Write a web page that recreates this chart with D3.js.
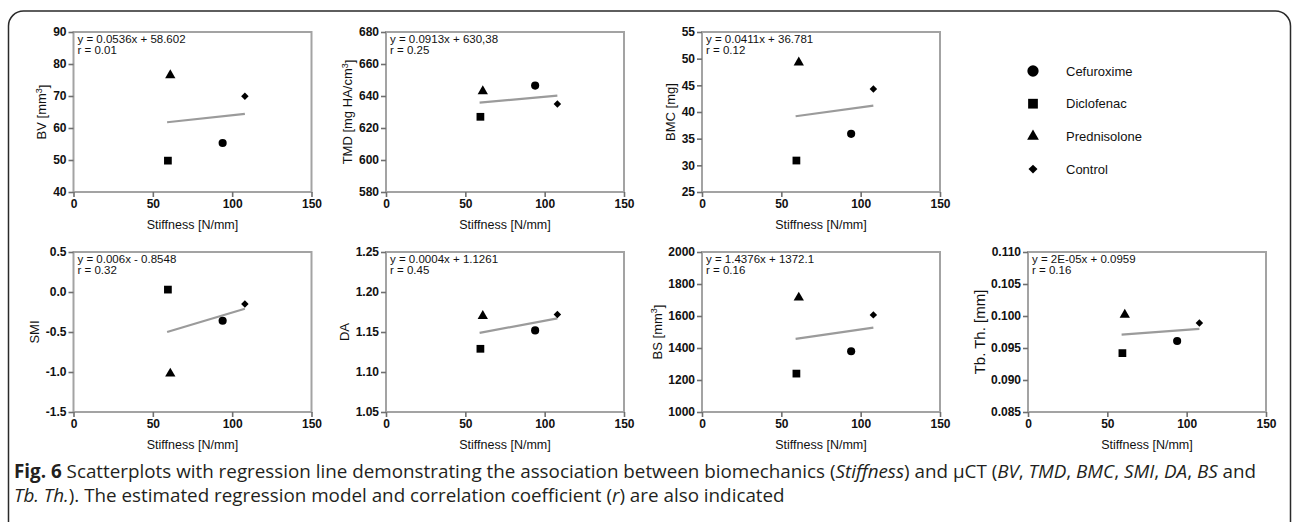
<!DOCTYPE html>
<html>
<head>
<meta charset="utf-8">
<script src="https://cdn.jsdelivr.net/npm/d3@7"></script>
<style>
  body { margin: 0; background: #fff; }
  svg text { font-family: "Liberation Sans", Arial, sans-serif; fill: #111; }
</style>
</head>
<body>
<div id="chart"></div>
<script>
// values
var groups = ["Cefuroxime", "Diclofenac", "Prednisolone", "Control"];
var stiffness = [94, 59.5, 61, 108];

var bv   = [55.3, 49.8, 76.5, 69.9];
var tmd  = [646.5, 627, 643, 635];
var bmc  = [35.9, 30.9, 49.3, 44.3];
var smi  = [-0.36, 0.03, -1.02, -0.15];
var da   = [1.152, 1.129, 1.170, 1.172];
var bs   = [1380, 1240, 1715, 1607];
var tbth = [0.0961, 0.0942, 0.1002, 0.0989];

// regression line ends (at stiffness 59 and 108)
var fitX    = [59, 108];
var fitBV   = [61.8, 64.4];
var fitTMD  = [635.8, 640.2];
var fitBMC  = [39.2, 41.2];
var fitSMI  = [-0.50, -0.21];
var fitDA   = [1.149, 1.167];
var fitBS   = [1457, 1527];
var fitTBTH = [0.0971, 0.0980];

var xTicks    = [0, 50, 100, 150];
var bvTicks   = [40, 50, 60, 70, 80, 90];
var tmdTicks  = [580, 600, 620, 640, 660, 680];
var bmcTicks  = [25, 30, 35, 40, 45, 50, 55];
var smiTicks  = [-1.5, -1.0, -0.5, 0.0, 0.5];
var daTicks   = [1.05, 1.10, 1.15, 1.20, 1.25];
var bsTicks   = [1000, 1200, 1400, 1600, 1800, 2000];
var tbthTicks = [0.085, 0.090, 0.095, 0.100, 0.105, 0.110];

var panels = [
    { values: bv,   fit: fitBV,   ticks: bvTicks,   fmt: "d",   title: ["BV [mm", "3", "]"],         eq: "y = 0.0536x + 58.602",  r: "r = 0.01", col: 0, row: 0 },
    { values: tmd,  fit: fitTMD,  ticks: tmdTicks,  fmt: "d",   title: ["TMD [mg HA/cm", "3", "]"],  eq: "y = 0.0913x + 630,38",  r: "r = 0.25", col: 1, row: 0 },
    { values: bmc,  fit: fitBMC,  ticks: bmcTicks,  fmt: "d",   title: ["BMC [mg]"],                 eq: "y = 0.0411x + 36.781",  r: "r = 0.12", col: 2, row: 0 },
    { values: smi,  fit: fitSMI,  ticks: smiTicks,  fmt: ".1f", title: ["SMI"],                      eq: "y = 0.006x - 0.8548",   r: "r = 0.32", col: 0, row: 1 },
    { values: da,   fit: fitDA,   ticks: daTicks,   fmt: ".2f", title: ["DA"],                       eq: "y = 0.0004x + 1.1261",  r: "r = 0.45", col: 1, row: 1 },
    { values: bs,   fit: fitBS,   ticks: bsTicks,   fmt: "d",   title: ["BS [mm", "3", "]"],         eq: "y = 1.4376x + 1372.1",  r: "r = 0.16", col: 2, row: 1 },
    { values: tbth, fit: fitTBTH, ticks: tbthTicks, fmt: ".3f", title: ["Tb. Th. [mm]"],             eq: "y = 2E-05x + 0.0959",   r: "r = 0.16", col: 3, row: 1, big: true }
];

var width = 1292, height = 522;
var colLeft = [73.5, 386, 702, 1028],
    rowTop = [32, 252],
    plotW = 238,
    plotH = 160;

var svg = d3.select("#chart").append("svg")
    .attr("width", width)
    .attr("height", height);

// rounded outer frame, bottom runs off the page
svg.append("rect")
    .attr("x", 8.5).attr("y", 11)
    .attr("width", 1282).attr("height", 540)
    .attr("rx", 15)
    .attr("fill", "none")
    .attr("stroke", "#2a2a2a")
    .attr("stroke-width", 1.5);

var shapes = [d3.symbolCircle, d3.symbolSquare, d3.symbolTriangle, d3.symbolSquare];
var sizes = [52, 60, 46, 28];
var rotate = [0, 0, 0, 45];

var x = d3.scaleLinear().domain([0, 150]).range([0, plotW]);
var minus = d3.formatLocale({ decimal: ".", thousands: ",", grouping: [3], currency: ["", ""], minus: "-" });

panels.forEach(function(p) {
    var g = svg.append("g")
        .attr("transform", "translate(" + colLeft[p.col] + "," + rowTop[p.row] + ")");

    var y = d3.scaleLinear()
        .domain(d3.extent(p.ticks))
        .range([plotH, 0]);

    // frame
    g.append("rect")
        .attr("width", plotW).attr("height", plotH)
        .attr("fill", "none")
        .attr("stroke", "#a3a3a3")
        .attr("stroke-width", 2);

    var yAxis = g.append("g")
        .call(d3.axisLeft(y).tickValues(p.ticks).tickFormat(minus.format(p.fmt)).tickSize(5).tickPadding(2));
    var xAxis = g.append("g")
        .attr("transform", "translate(0," + plotH + ")")
        .call(d3.axisBottom(x).tickValues(xTicks).tickSize(5).tickPadding(2));

    [yAxis, xAxis].forEach(function(a) {
        a.select(".domain").remove();
        a.selectAll(".tick line").attr("stroke", "#6f6f6f").attr("stroke-width", 1.6);
        a.selectAll(".tick text")
            .attr("fill", "#111")
            .style("font-family", "'Liberation Sans', Arial, sans-serif")
            .style("font-size", "12px")
            .style("font-weight", "bold");
    });

    var maxW = d3.max(yAxis.selectAll(".tick text").nodes(), function(n) { return n.getBBox().width; });

    // y title
    var title = g.append("text")
        .attr("transform", "translate(" + (-7 - maxW - 11) + "," + (plotH / 2) + ") rotate(-90)")
        .attr("text-anchor", "middle")
        .attr("dy", "0.35em")
        .style("font-size", p.big ? "15px" : "13px");
    title.append("tspan").text(p.title[0]);
    if (p.title.length > 1) {
        title.append("tspan").attr("dy", "-0.45em").style("font-size", "9px").text(p.title[1]);
        title.append("tspan").attr("dy", "0.45em").text(p.title[2]);
    }

    // x title
    g.append("text")
        .attr("x", plotW / 2)
        .attr("y", plotH + 37)
        .attr("text-anchor", "middle")
        .style("font-size", "12.5px")
        .text("Stiffness [N/mm]");

    // equation
    g.append("text").attr("x", 4).attr("y", 10.5).style("font-size", "11.5px").text(p.eq);
    g.append("text").attr("x", 4).attr("y", 21.5).style("font-size", "11.5px").text(p.r);

    // regression line
    g.append("line")
        .attr("x1", x(fitX[0])).attr("y1", y(p.fit[0]))
        .attr("x2", x(fitX[1])).attr("y2", y(p.fit[1]))
        .attr("stroke", "#9b9b9b")
        .attr("stroke-width", 2.2);

    g.selectAll(".pt")
        .data(p.values)
        .enter().append("path")
        .attr("class", "pt")
        .attr("transform", function(d, i) {
            return "translate(" + x(stiffness[i]) + "," + y(d) + ") rotate(" + rotate[i] + ")";
        })
        .attr("d", function(d, i) { return d3.symbol().type(shapes[i]).size(sizes[i])(); })
        .attr("fill", "#000");
});

// legend
var legend = svg.append("g").attr("transform", "translate(1033,71)");
var legendSizes = [100, 95, 60, 40];
groups.forEach(function(name, i) {
    var row = legend.append("g").attr("transform", "translate(0," + (i * 32.7) + ")");
    row.append("path")
        .attr("transform", "rotate(" + rotate[i] + ")")
        .attr("d", d3.symbol().type(shapes[i]).size(legendSizes[i])())
        .attr("fill", "#000");
    row.append("text")
        .attr("x", 33)
        .attr("dy", "0.35em")
        .style("font-size", "13px")
        .text(name);
});

// caption
var capFont = "'Open Sans', 'Noto Sans', sans-serif";
var line1 = [
    ["Fig. 6", "b"], [" Scatterplots with regression line demonstrating the association between biomechanics (", ""],
    ["Stiffness", "i"], [") and \u00b5CT (", ""], ["BV", "i"], [", ", ""], ["TMD", "i"], [", ", ""],
    ["BMC", "i"], [", ", ""], ["SMI", "i"], [", ", ""], ["DA", "i"], [", ", ""], ["BS", "i"], [" and", ""]
];
var line2 = [
    ["Tb. Th.", "i"], ["). The estimated regression model and correlation coefficient (", ""],
    ["r", "i"], [") are also indicated", ""]
];

function captionLine(parts, yPos) {
    var t = svg.append("text")
        .attr("x", 14)
        .attr("y", yPos)
        .style("font-family", capFont)
        .style("font-size", "15px")
        .style("fill", "#231f20");
    parts.forEach(function(p) {
        t.append("tspan")
            .style("font-weight", p[1] === "b" ? "bold" : "normal")
            .style("font-style", p[1] === "i" ? "italic" : "normal")
            .text(p[0]);
    });
    return t;
}

var c1 = captionLine(line1, 478);
var c2 = captionLine(line2, 502);
var fit = 15 * 1243 / c1.node().getComputedTextLength();
c1.style("font-size", fit + "px");
c2.style("font-size", fit + "px");
</script>
</body>
</html>
